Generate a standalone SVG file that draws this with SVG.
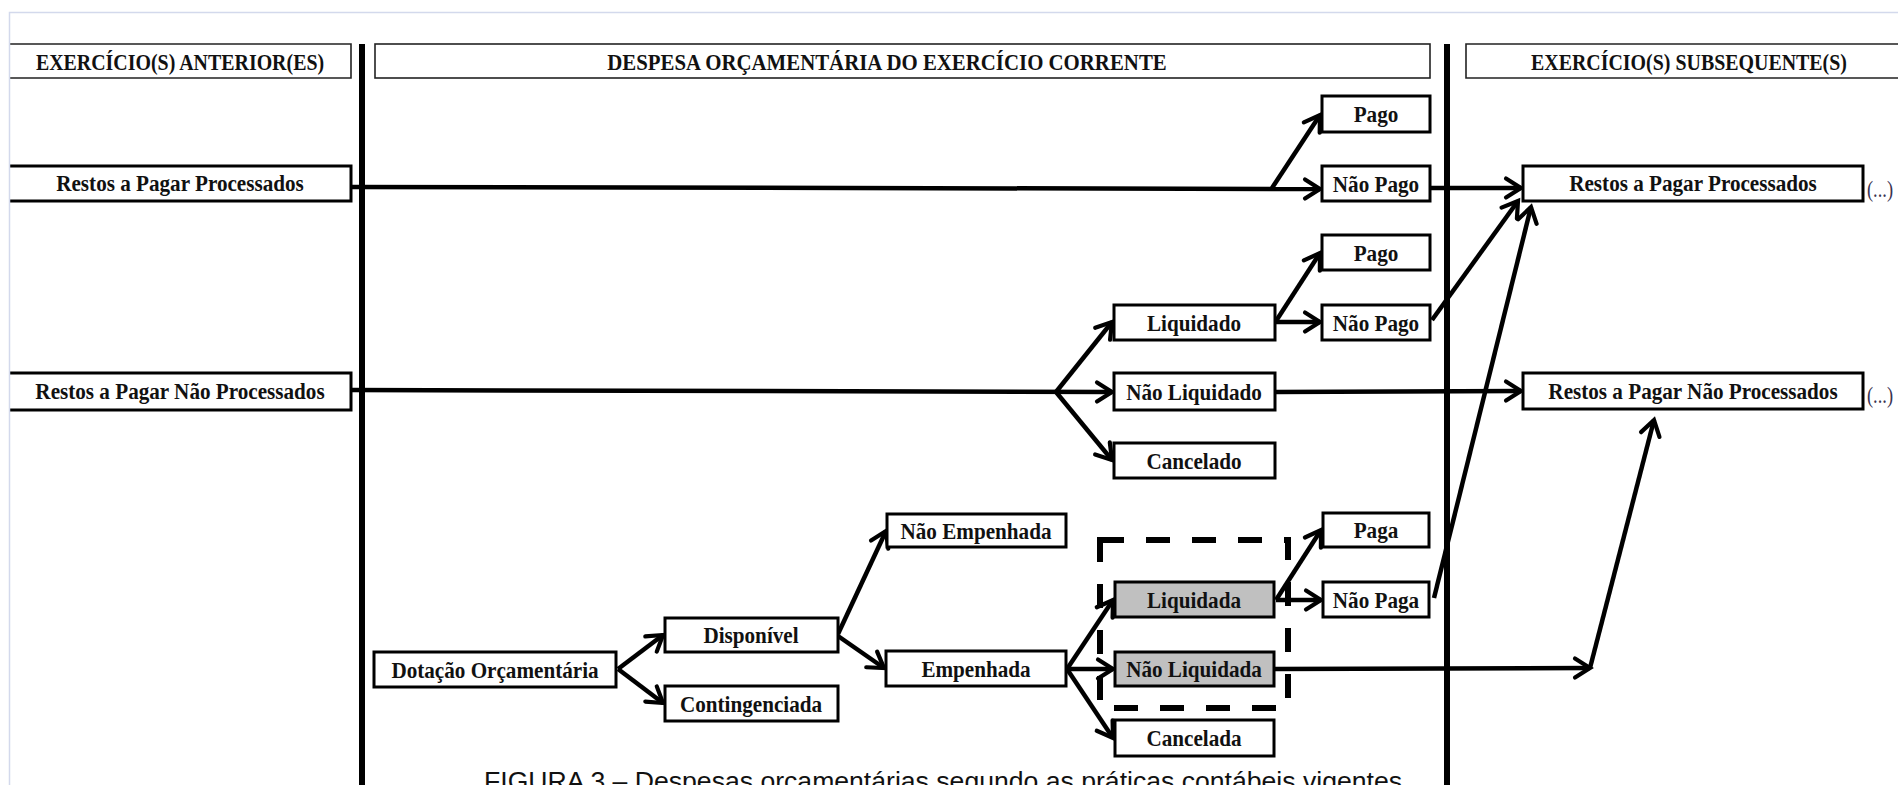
<svg xmlns="http://www.w3.org/2000/svg" width="1898" height="785" viewBox="0 0 1898 785">
<defs>
<style>
.hdr{fill:#fff;stroke:#222;stroke-width:1.6}
.box{fill:#fff;stroke:#000;stroke-width:3}
.grey{fill:#c0c0c0;stroke:#000;stroke-width:3}
.ht{font-family:"Liberation Serif","Times New Roman",serif;font-weight:bold;font-size:24px;fill:#111;text-anchor:middle}
.t{font-family:"Liberation Serif","Times New Roman",serif;font-weight:bold;font-size:23.5px;fill:#111;text-anchor:middle}
.dots{font-family:"Liberation Serif","Times New Roman",serif;font-size:23px;fill:#3a3350}
.cap{font-family:"Liberation Sans",Arial,sans-serif;font-size:26.5px;fill:#111}
.c{fill:none;stroke:#000;stroke-width:4.5;marker-end:url(#ah)}
.sep{stroke:#000;stroke-width:6}
</style>
<marker id="ah" viewBox="0 0 24 24" refX="19" refY="12" markerWidth="24" markerHeight="24" markerUnits="userSpaceOnUse" orient="auto" overflow="visible">
<path d="M4,2.5 L19,12 L4,21.5" fill="none" stroke="#000" stroke-width="4.2" stroke-linejoin="miter" stroke-linecap="round"/>
</marker>
</defs>
<rect x="0" y="0" width="1898" height="785" fill="#fff"/>

<g id="headers">
<path class="hdr" d="M10,44 H351 V78 H10"/>
<text class="ht" transform="translate(180,70) scale(0.83,1)">EXERCÍCIO(S) ANTERIOR(ES)</text>
<rect class="hdr" x="375" y="44" width="1055" height="34"/>
<text class="ht" transform="translate(887,70) scale(0.869,1)">DESPESA ORÇAMENTÁRIA DO EXERCÍCIO CORRENTE</text>
<path class="hdr" d="M1905,44 H1466 V78 H1905"/>
<text class="ht" transform="translate(1689,70) scale(0.83,1)">EXERCÍCIO(S) SUBSEQUENTE(S)</text>
</g>

<g id="separators">
<line class="sep" x1="362" y1="44" x2="362" y2="785"/>
<line class="sep" x1="1447" y1="44" x2="1447" y2="785"/>
</g>

<g id="connectors">
<path class="c" d="M351,187 L1320,189"/>
<path class="c" d="M1272,188 L1320,115"/>
<path class="c" d="M1430,188 L1521,188"/>
<path class="c" d="M351,390 L1112,392"/>
<path class="c" d="M1056,392 L1112,322"/>
<path class="c" d="M1056,392 L1112,460"/>
<path class="c" d="M1276,321 L1320,253"/>
<path class="c" d="M1276,322 L1320,322"/>
<path class="c" d="M1432,320 L1518,201"/>
<path class="c" d="M1275,392 L1521,391"/>
<path class="c" d="M618,669 L663,635"/>
<path class="c" d="M618,669 L663,703"/>
<path class="c" d="M838,634 L886,531"/>
<path class="c" d="M838,636 L884,668"/>
<path class="c" d="M1067,669 L1113,600"/>
<path class="c" d="M1067,669 L1113,669"/>
<path class="c" d="M1067,669 L1113,738"/>
<path class="c" d="M1276,600 L1321,530"/>
<path class="c" d="M1276,600 L1321,600"/>
<path class="c" d="M1434,598 L1531,207"/>
<path class="c" d="M1274,669 L1590,668"/>
<path class="c" d="M1590,668 L1654,420"/>
</g>

<g id="dashed-group">
<rect x="1100" y="540" width="188" height="168" fill="none" stroke="#000" stroke-width="6" stroke-dasharray="24 22"/>
</g>

<g id="n-rp-left"><path class="box" d="M10,166 H351 V201 H10"/><text class="t" transform="translate(180,191) scale(0.9,1)">Restos a Pagar Processados</text></g>
<g id="n-rnp-left"><path class="box" d="M10,373 H351 V410 H10"/><text class="t" transform="translate(180,399) scale(0.9,1)">Restos a Pagar Não Processados</text></g>

<g id="n-pago1"><rect class="box" x="1322" y="96" width="108" height="36"/><text class="t" transform="translate(1376,122) scale(0.9,1)">Pago</text></g>
<g id="n-naopago1"><rect class="box" x="1322" y="166" width="108" height="35"/><text class="t" transform="translate(1376,192) scale(0.9,1)">Não Pago</text></g>
<g id="n-pago2"><rect class="box" x="1322" y="235" width="108" height="35"/><text class="t" transform="translate(1376,261) scale(0.9,1)">Pago</text></g>
<g id="n-naopago2"><rect class="box" x="1322" y="305" width="108" height="35"/><text class="t" transform="translate(1376,331) scale(0.9,1)">Não Pago</text></g>

<g id="n-liquidado"><rect class="box" x="1114" y="305" width="161" height="35"/><text class="t" transform="translate(1194,331) scale(0.9,1)">Liquidado</text></g>
<g id="n-naoliquidado"><rect class="box" x="1114" y="373" width="161" height="37"/><text class="t" transform="translate(1194,400) scale(0.9,1)">Não Liquidado</text></g>
<g id="n-cancelado"><rect class="box" x="1114" y="443" width="161" height="35"/><text class="t" transform="translate(1194,469) scale(0.9,1)">Cancelado</text></g>

<g id="n-rp-right"><rect class="box" x="1523" y="166" width="340" height="35"/><text class="t" transform="translate(1693,191) scale(0.9,1)">Restos a Pagar Processados</text><text class="dots" transform="translate(1867,197) scale(0.8,1)">(...)</text></g>
<g id="n-rnp-right"><rect class="box" x="1523" y="373" width="340" height="36"/><text class="t" transform="translate(1693,399) scale(0.9,1)">Restos a Pagar Não Processados</text><text class="dots" transform="translate(1867,403) scale(0.8,1)">(...)</text></g>

<g id="n-dotacao"><rect class="box" x="374" y="652" width="242" height="35"/><text class="t" transform="translate(495,678) scale(0.9,1)">Dotação Orçamentária</text></g>
<g id="n-disponivel"><rect class="box" x="665" y="618" width="173" height="34"/><text class="t" transform="translate(751,643) scale(0.9,1)">Disponível</text></g>
<g id="n-contingenciada"><rect class="box" x="665" y="686" width="173" height="35"/><text class="t" transform="translate(751,712) scale(0.9,1)">Contingenciada</text></g>
<g id="n-naoempenhada"><rect class="box" x="887" y="514" width="179" height="33"/><text class="t" transform="translate(976,539) scale(0.9,1)">Não Empenhada</text></g>
<g id="n-empenhada"><rect class="box" x="886" y="651" width="180" height="35"/><text class="t" transform="translate(976,677) scale(0.9,1)">Empenhada</text></g>
<g id="n-liquidada"><rect class="grey" x="1115" y="582" width="159" height="35"/><text class="t" transform="translate(1194,608) scale(0.9,1)">Liquidada</text></g>
<g id="n-naoliquidada"><rect class="grey" x="1115" y="652" width="159" height="34"/><text class="t" transform="translate(1194,677) scale(0.9,1)">Não Liquidada</text></g>
<g id="n-cancelada"><rect class="box" x="1115" y="720" width="159" height="36"/><text class="t" transform="translate(1194,746) scale(0.9,1)">Cancelada</text></g>
<g id="n-paga"><rect class="box" x="1323" y="513" width="106" height="34"/><text class="t" transform="translate(1376,538) scale(0.9,1)">Paga</text></g>
<g id="n-naopaga"><rect class="box" x="1323" y="582" width="106" height="35"/><text class="t" transform="translate(1376,608) scale(0.9,1)">Não Paga</text></g>

<g id="frame">
<path d="M9.5,785 V12.5 H1898" fill="none" stroke="#d3d9ec" stroke-width="1.5"/>
</g>

<g id="caption">
<text class="cap" x="484" y="790" textLength="918" lengthAdjust="spacingAndGlyphs">FIGURA 3 – Despesas orçamentárias segundo as práticas contábeis vigentes</text>
</g>
</svg>
